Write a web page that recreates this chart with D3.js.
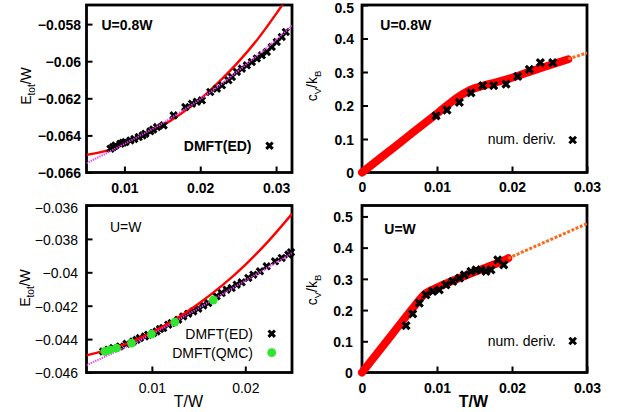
<!DOCTYPE html>
<html><head><meta charset="utf-8">
<script src="https://cdn.jsdelivr.net/npm/d3@7"></script>
<style>
body{margin:0;background:#fff}
svg{display:block}
text{font-family:"Liberation Sans",Arial,Helvetica,sans-serif;fill:#000}
</style>
</head><body>
<svg id="chart" width="622" height="412"></svg>
<script>
// ---------- Top-left: U=0.8W, total energy ----------
const tlEdT = [0.00816,0.0085,0.00882,0.00947,0.0098,0.01013,0.01079,0.0113,0.01188,0.0124,0.01276,0.01342,0.0138,0.0143,0.01517,0.01649,0.01803,0.01891,0.01955,0.02022,0.02132,0.0222,0.02286,0.02372,0.02417,0.02483,0.02549,0.02614,0.0268,0.02746,0.02812,0.02878,0.02943,0.03009,0.03075,0.03128];
const tlEdE = [-0.06472,-0.06463,-0.06454,-0.06445,-0.0644,-0.06436,-0.06427,-0.0642,-0.06409,-0.064,-0.06391,-0.06378,-0.06368,-0.06355,-0.06346,-0.06292,-0.06247,-0.06229,-0.06218,-0.06211,-0.06166,-0.06148,-0.0613,-0.06103,-0.06085,-0.06058,-0.0604,-0.06022,-0.06004,-0.05985,-0.05968,-0.0595,-0.05923,-0.05896,-0.05869,-0.05842];
const tlRedT = [0.005,0.008,0.01,0.0125,0.015,0.0175,0.02,0.0225,0.025,0.0275,0.03,0.0315,0.0325];
const tlRedE = [-0.06505,-0.06478,-0.06448,-0.06402,-0.06348,-0.06282,-0.06204,-0.06110,-0.06005,-0.05885,-0.05745,-0.05655,-0.05590];
const tlFitT = [0.005,0.008,0.01,0.0125,0.015,0.0175,0.02,0.0225,0.025,0.0275,0.03,0.0321];
const tlFitE = [-0.06550,-0.06488,-0.06446,-0.06392,-0.06335,-0.06272,-0.06205,-0.06132,-0.06052,-0.05970,-0.05885,-0.05810];
const tlXTicks = [0.01,0.02,0.03];
const tlYTicks = [-0.066,-0.064,-0.062,-0.06,-0.058];

// ---------- Top-right: U=0.8W, specific heat ----------
const trBandT = [0,0.005,0.01,0.013,0.0145,0.016,0.018,0.02,0.0225,0.025,0.0275];
const trBandC = [0,0.088,0.176,0.228,0.247,0.258,0.27,0.283,0.302,0.32,0.338];
const trExtT = [0.0275,0.03];
const trExtC = [0.339,0.357];
const trDerT = [0.00987,0.01133,0.01298,0.01453,0.01609,0.01756,0.0192,0.02076,0.02231,0.02378,0.02543];
const trDerC = [0.169,0.186,0.209,0.238,0.259,0.259,0.264,0.287,0.308,0.328,0.328];
const trXTicks = [0,0.01,0.02,0.03];
const trYTicks = [0,0.1,0.2,0.3,0.4,0.5];

// ---------- Bottom-left: U=W, total energy ----------
const blEdT = [0.00478,0.00532,0.00585,0.00657,0.00729,0.00799,0.00836,0.00871,0.00925,0.0096,0.01014,0.0105,0.01086,0.01121,0.01175,0.01211,0.01282,0.01335,0.01389,0.01443,0.01496,0.0155,0.01603,0.01693,0.01747,0.018,0.01854,0.01908,0.01961,0.02032,0.02086,0.02157,0.02229,0.02318,0.0239,0.02461,0.0249];
const blEdE = [-0.04474,-0.04464,-0.04454,-0.04444,-0.04428,-0.04414,-0.04404,-0.04394,-0.04384,-0.04374,-0.04364,-0.04354,-0.0434,-0.04334,-0.04314,-0.04304,-0.04284,-0.04264,-0.04248,-0.04234,-0.04218,-0.04198,-0.04184,-0.04144,-0.04124,-0.04104,-0.04094,-0.04074,-0.0406,-0.04034,-0.04014,-0.03994,-0.03964,-0.03934,-0.03914,-0.03894,-0.0388];
const blQmcT = [0.00496,0.0055,0.00621,0.00782,0.00996,0.01246,0.01657];
const blQmcE = [-0.04474,-0.04464,-0.04454,-0.04424,-0.0437,-0.04298,-0.04166];
const blRedT = [0.003,0.005,0.0075,0.01,0.0125,0.015,0.0175,0.02,0.0225,0.025];
const blRedE = [-0.04498,-0.04468,-0.04422,-0.04360,-0.04282,-0.04188,-0.04080,-0.03955,-0.03812,-0.03650];
const blFitT = [0.003,0.005,0.0075,0.01,0.0125,0.015,0.0175,0.02,0.0225,0.025];
const blFitE = [-0.04556,-0.04505,-0.04440,-0.04370,-0.04295,-0.04215,-0.04132,-0.04050,-0.03968,-0.03886];
const blXTicks = [0.01,0.02];
const blYTicks = [-0.046,-0.044,-0.042,-0.04,-0.038,-0.036];

// ---------- Bottom-right: U=W, specific heat ----------
const brBandT = [0,0.004,0.007,0.0083,0.0092,0.01,0.012,0.015,0.0175,0.0195];
const brBandC = [0,0.122,0.213,0.25,0.263,0.272,0.293,0.322,0.345,0.366];
const brExtT = [0.0195,0.03];
const brExtC = [0.366,0.477];
const brDerT = [0.00587,0.00676,0.00764,0.00853,0.00943,0.0103,0.0112,0.0121,0.013,0.01364,0.01453,0.0152,0.01587,0.01653,0.0172,0.0181,0.0189];
const brDerC = [0.15,0.188,0.222,0.249,0.26,0.265,0.281,0.292,0.302,0.313,0.324,0.329,0.329,0.324,0.329,0.361,0.345];
const brXTicks = [0,0.01,0.02,0.03];
const brYTicks = [0,0.1,0.2,0.3,0.4,0.5];

// ---------- drawing ----------
const svg = d3.select("#chart");
const zip = (a,b) => a.map((v,i)=>[v,b[i]]);
const fmt = d3.format("~g");

function panel(p){
  const x = d3.scaleLinear().domain(p.xDom).range([p.l,p.r]);
  const y = d3.scaleLinear().domain(p.yDom).range([p.b,p.t]);
  const g = svg.append("g");
  const fw = p.bold ? "bold" : "normal";
  svg.append("clipPath").attr("id","clip-"+p.name)
    .append("rect").attr("x",p.l).attr("y",p.t).attr("width",p.r-p.l).attr("height",p.b-p.t);
  const xa = g.append("g").attr("transform",`translate(0,${p.b})`)
    .call(d3.axisBottom(x).tickValues(p.xTicks).tickSize(-6).tickPadding(p.xPad).tickFormat(fmt));
  const ya = g.append("g").attr("transform",`translate(${p.l},0)`)
    .call(d3.axisLeft(y).tickValues(p.yTicks).tickSize(-6).tickPadding(p.yPad).tickFormat(fmt));
  [xa,ya].forEach(a=>{
    a.select(".domain").remove();
    a.selectAll(".tick line").attr("stroke","#000").attr("stroke-width",2);
    a.selectAll(".tick text").attr("font-size",14).attr("font-weight",fw)
      .attr("font-family","'Liberation Sans',Arial,sans-serif").attr("fill","#000");
  });
  // labels sitting right at the top edge of the frame drop a little, as in the original
  ya.selectAll(".tick text").attr("dy", d => (y(d) - p.t < 2 ? "0.52em" : "0.38em"));
  g.append("rect").attr("x",p.l).attr("y",p.t).attr("width",p.r-p.l).attr("height",p.b-p.t)
    .attr("fill","none").attr("stroke","#000").attr("stroke-width",2.8);
  const plot = g.append("g");
  const clipped = g.append("g").attr("clip-path",`url(#clip-${p.name})`);
  const top = g.append("g");
  return {x,y,g,plot,clipped,top,fw};
}

function crossPath(s){ return `M${-s},${-s}L${s},${s}M${-s},${s}L${s},${-s}`; }
function crosses(layer, P, pts, s, w){
  layer.selectAll(null).data(pts).enter().append("path")
    .attr("d",crossPath(s))
    .attr("transform",d=>`translate(${P.x(d[0])},${P.y(d[1])})`)
    .attr("stroke","#000").attr("stroke-width",w).attr("fill","none");
}
function line(layer, P, pts, attrs, curve){
  const gen = d3.line().x(d=>P.x(d[0])).y(d=>P.y(d[1])).curve(curve||d3.curveMonotoneX);
  const path = layer.append("path").datum(pts).attr("d",gen).attr("fill","none");
  Object.entries(attrs).forEach(([k,v])=>path.attr(k,v));
  return path;
}
function ylabel(P, x, y, main1, sub1, main2, sub2, fw, fs, sfs){
  const t = P.g.append("text").attr("transform",`translate(${x},${y}) rotate(-90)`)
    .attr("text-anchor","middle").attr("font-size",fs).attr("font-weight",fw);
  t.append("tspan").text(main1);
  t.append("tspan").attr("font-size",sfs).attr("dy",3.5).text(sub1);
  t.append("tspan").attr("dy",-3.5).text(main2);
  if (sub2) t.append("tspan").attr("font-size",sfs).attr("dy",3.5).text(sub2);
}
function txt(P, x, y, s, o){
  const t = P.g.append("text").attr("x",x).attr("y",y).text(s)
    .attr("font-size",o.fs||14).attr("font-weight",o.fw||"normal")
    .attr("text-anchor",o.anchor||"start");
  if (o.fill) t.attr("fill",o.fill);
  return t;
}
const GREEN = "#2ee62e";

// ----- TL -----
const TL = panel({name:"tl", l:86.5, r:292, t:5, b:172.5, xDom:[0.005,0.0321], yDom:[-0.066,-0.05697],
  xTicks:tlXTicks, yTicks:tlYTicks, bold:true, xPad:10.5, yPad:5.5});
line(TL.clipped, TL, zip(tlRedT,tlRedE), {stroke:"#ff0000","stroke-width":2.4});
crosses(TL.top, TL, zip(tlEdT,tlEdE), 3.2, 3);
line(TL.top.append("g").attr("clip-path","url(#clip-tl)"), TL, zip(tlFitT,tlFitE), {stroke:"#f03cf0","stroke-width":2,"stroke-dasharray":"1.3,1.1"});
txt(TL, 101.5, 30, "U=0.8W", {fw:"bold"});
txt(TL, 251.5, 150.5, "DMFT(ED)", {fw:"bold", anchor:"end"});
TL.top.append("path").attr("d",crossPath(3.2)).attr("transform","translate(269.5,145.7)")
  .attr("stroke","#000").attr("stroke-width",3);
ylabel(TL, 31, 86, "E", "tot", "/W", null, "normal", 14, 10);

// ----- TR -----
const TR = panel({name:"tr", l:362, r:587, t:5, b:172.5, xDom:[0,0.03], yDom:[0,0.5],
  xTicks:trXTicks, yTicks:trYTicks, bold:true, xPad:9.5, yPad:8});
line(TR.plot, TR, zip(trBandT,trBandC), {stroke:"#ff0000","stroke-width":8,"stroke-linecap":"round","stroke-linejoin":"round"});
line(TR.plot, TR, zip(trExtT,trExtC), {stroke:"#ff6a1a","stroke-width":3,"stroke-dasharray":"3,1.6"}, d3.curveLinear);
crosses(TR.top, TR, zip(trDerT,trDerC), 3.5, 3.2);
txt(TR, 380.3, 30, "U=0.8W", {fw:"bold"});
txt(TR, 556, 144.3, "num. deriv.", {fill:"#222", anchor:"end"});
TR.top.append("path").attr("d",crossPath(3.3)).attr("transform","translate(572.7,140)")
  .attr("stroke","#000").attr("stroke-width",3);
ylabel(TR, 317, 86, "c", "V", "/k", "B", "normal", 14, 9.5);

// ----- BL -----
const BL = panel({name:"bl", l:86.5, r:292, t:205.5, b:372.5, xDom:[0.003,0.025], yDom:[-0.046,-0.036],
  xTicks:blXTicks, yTicks:blYTicks, bold:false, xPad:10.5, yPad:8.5});
crosses(BL.plot, BL, zip(blEdT,blEdE), 3.2, 3);
line(BL.clipped, BL, zip(blRedT,blRedE), {stroke:"#ff0000","stroke-width":2.4});
line(BL.clipped, BL, zip(blFitT,blFitE), {stroke:"#f03cf0","stroke-width":2,"stroke-dasharray":"1.3,1.1"});
BL.top.selectAll(null).data(zip(blQmcT,blQmcE)).enter().append("circle")
  .attr("cx",d=>BL.x(d[0])).attr("cy",d=>BL.y(d[1])).attr("r",4.4).attr("fill",GREEN);
txt(BL, 110, 231.7, "U=W", {});
txt(BL, 253, 338.7, "DMFT(ED)", {anchor:"end"});
txt(BL, 253, 357.7, "DMFT(QMC)", {anchor:"end"});
BL.top.append("path").attr("d",crossPath(3.2)).attr("transform","translate(271.7,333.7)")
  .attr("stroke","#000").attr("stroke-width",3);
BL.top.append("circle").attr("cx",271.7).attr("cy",352.7).attr("r",4.4).attr("fill",GREEN);
ylabel(BL, 30, 288, "E", "tot", "/W", null, "normal", 14, 10);
txt(BL, 188.5, 406.5, "T/W", {fs:16, anchor:"middle"});

// ----- BR -----
const BR = panel({name:"br", l:362, r:587, t:205.5, b:372.5, xDom:[0,0.03], yDom:[0,0.535],
  xTicks:brXTicks, yTicks:brYTicks, bold:true, xPad:10.5, yPad:9.3});
line(BR.plot, BR, zip(brBandT,brBandC), {stroke:"#ff0000","stroke-width":8,"stroke-linecap":"round","stroke-linejoin":"round"});
line(BR.plot, BR, zip(brExtT,brExtC), {stroke:"#ff6a1a","stroke-width":3,"stroke-dasharray":"3,1.6"}, d3.curveLinear);
crosses(BR.top, BR, zip(brDerT,brDerC), 3.5, 3.2);
txt(BR, 384.3, 234.3, "U=W", {fw:"bold"});
txt(BR, 556, 345.5, "num. deriv.", {fill:"#222", anchor:"end"});
BR.top.append("path").attr("d",crossPath(3.3)).attr("transform","translate(572.7,341)")
  .attr("stroke","#000").attr("stroke-width",3);
ylabel(BR, 317, 290, "c", "V", "/k", "B", "normal", 14, 9.5);
txt(BR, 473.5, 407, "T/W", {fs:16, fw:"bold", anchor:"middle"});
</script>
</body></html>
